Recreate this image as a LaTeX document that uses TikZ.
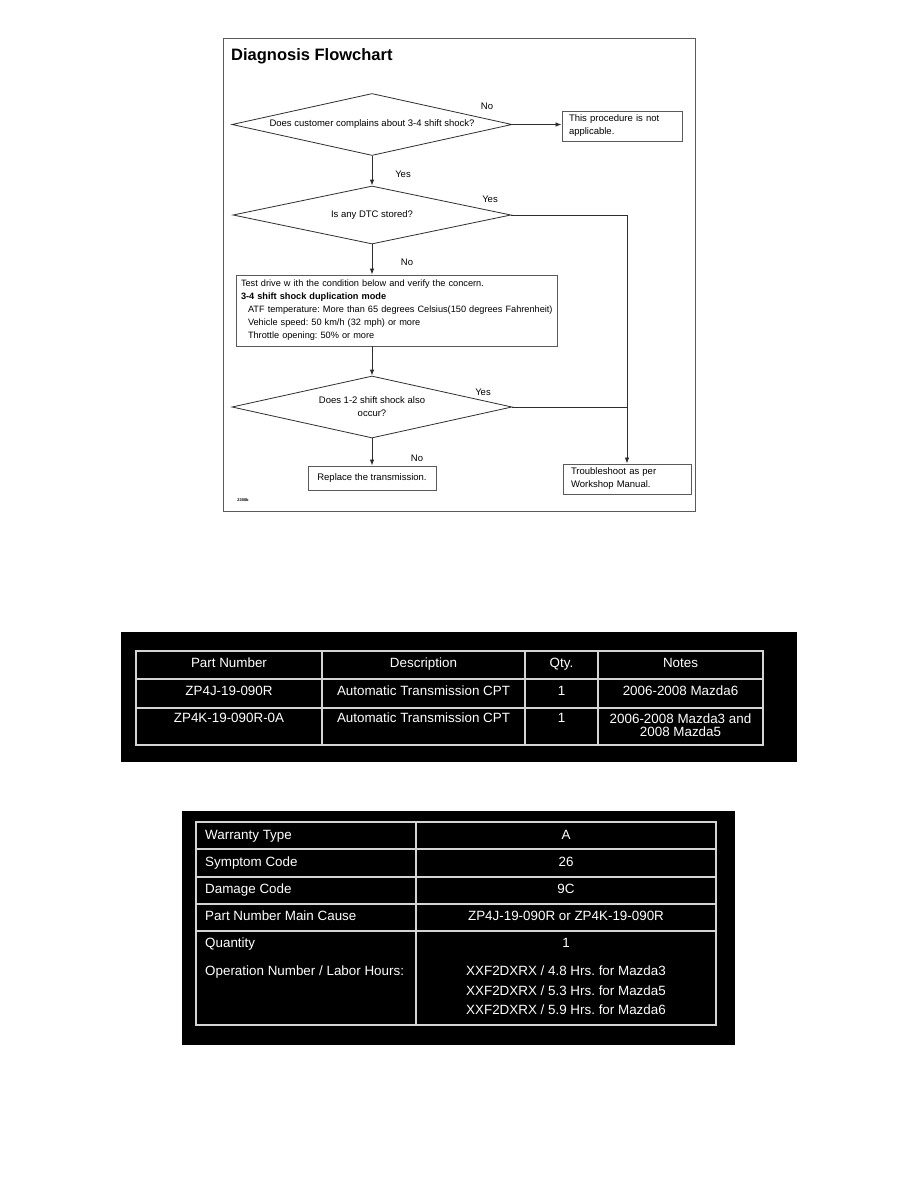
\documentclass[tikz,border=0pt]{standalone}
\usepackage{fontspec}
\setmainfont{Liberation Sans}
\usetikzlibrary{positioning, arrows.meta, shapes.geometric}
\definecolor{inkgrey}{HTML}{2E2E2E}
\definecolor{boxgrey}{HTML}{5A5A5A}
\definecolor{rulegrey}{HTML}{D4D4D4}
\frenchspacing

\begin{document}
\begin{tikzpicture}[
  x=1pt, y=-1pt,
  every node/.style={font=\fontsize{9.5}{13}\selectfont},
  arr/.style={-{Latex[length=6pt, width=4.5pt]}, line width=0.8pt, draw=inkgrey},
  lne/.style={line width=0.8pt, draw=inkgrey},
  decision/.style={
    diamond, draw=inkgrey, line width=0.8pt,
    aspect=4.5, inner sep=1pt, align=center,
    minimum width=280pt, minimum height=62pt
  },
  stepbox/.style={
    rectangle, draw=boxgrey, line width=0.9pt,
    align=left, inner ysep=3pt
  },
  lbl/.style={inner sep=0pt},
  cell/.style={
    text=white, font=\fontsize{13.4}{20}\selectfont,
    inner sep=0pt, text height=9.5pt, text depth=2.5pt
  },
  tablerule/.style={draw=rulegrey, line width=1.5pt}
]

%% page, 918 x 1188 px, y runs downwards
\fill[white] (0,0) rectangle (918,1188);
\useasboundingbox (0,0) rectangle (918,1188);

%% ─── FLOWCHART FRAME ────────────────────────────────────────────────────────
\draw[draw=boxgrey, line width=0.9pt] (223,38) rectangle (695,511);

\node[lbl, anchor=base west, font=\fontsize{16.5}{18}\bfseries\selectfont]
  (title) at (231,61) {Diagnosis Flowchart};

%% ─── DECISIONS AND STEPS ────────────────────────────────────────────────────
\node[decision] (complain) at (372,124.5)
  {Does customer complains about 3-4 shift shock?};

\node[stepbox, text width=106pt, inner xsep=7pt, minimum height=30pt]
  (notappl) at (622,126) {This procedure is not\\applicable.};

\node[decision, minimum width=278pt, minimum height=58pt] (dtc) at (372,215)
  {Is any DTC stored?};

\node[stepbox, text width=315pt, inner xsep=3pt, minimum height=71pt,
      font=\fontsize{9.2}{13}\selectfont]
  (testdrive) at (396.5,310.5)
  {\hspace*{2pt}Test drive w ith the condition below  and verify the concern.\\
   \hspace*{2pt}\textbf{3-4 shift shock duplication mode}\\
   \hspace*{9pt}ATF temperature: More than 65 degrees Celsius(150 degrees Fahrenheit)\\
   \hspace*{9pt}Vehicle speed: 50 km/h (32 mph) or more\\
   \hspace*{9pt}Throttle opening: 50\% or more};

\node[decision] (also) at (372,407)
  {Does 1-2 shift shock also\\occur?};

\node[stepbox, align=center, minimum width=128pt, minimum height=24pt]
  (replace) at (372,478) {Replace the transmission.};

\node[stepbox, text width=112pt, inner xsep=8pt, minimum height=30pt]
  (trouble) at (627,479) {Troubleshoot as per\\Workshop Manual.};

\node[lbl, font=\fontsize{4}{5}\bfseries\selectfont] (figno) at (243,500) {2300b};

%% ─── CONNECTORS ─────────────────────────────────────────────────────────────
\draw[arr] (complain.east) -- (complain.east -| notappl.west);
\node[lbl] (no_a) at (487,106) {No};

\draw[arr] (complain.south) -- (dtc.north);
\node[lbl] (yes_a) at (403,174) {Yes};

%% Yes branch of DTC runs right, then down to the manual
\draw[arr] (dtc.east) -| (trouble.north);
\node[lbl] (yes_b) at (490,199.5) {Yes};

\draw[arr] (dtc.south) -- (dtc.south |- testdrive.north);
\node[lbl] (no_b) at (407,262) {No};

\draw[arr] (testdrive.south -| also.north) -- (also.north);

%% 1-2 shock joins the same vertical line
\draw[lne] (also.east) -- (also.east -| trouble.north);
\node[lbl] (yes_c) at (483,392) {Yes};

\draw[arr] (also.south) -- (replace.north);
\node[lbl] (no_c) at (417,458.5) {No};

%% ─── PARTS TABLE ────────────────────────────────────────────────────────────
\fill[black] (121,632) rectangle (797,762);
\draw[tablerule] (136,651) rectangle (763,745);
\draw[tablerule] (136,679) -- (763,679);
\draw[tablerule] (136,708) -- (763,708);
\draw[tablerule] (322,651) -- (322,745);
\draw[tablerule] (525,651) -- (525,745);
\draw[tablerule] (598,651) -- (598,745);

\node[cell] (pn_hdr)   at (229,664)   {Part Number};
\node[cell] (desc_hdr) at (423.5,664) {Description};
\node[cell] (qty_hdr)  at (561.5,664) {Qty.};
\node[cell] (note_hdr) at (680.5,664) {Notes};

\node[cell] (pn1)   at (229,692)   {ZP4J-19-090R};
\node[cell] (desc1) at (423.5,692) {Automatic Transmission CPT};
\node[cell] (qty1)  at (561.5,692) {1};
\node[cell] (note1) at (680.5,692) {2006-2008 Mazda6};

\node[cell] (pn2)   at (229,719)   {ZP4K-19-090R-0A};
\node[cell] (desc2) at (423.5,719) {Automatic Transmission CPT};
\node[cell] (qty2)  at (561.5,719) {1};
\node[cell, align=center, text height=, text depth=, font=\fontsize{13.4}{12.5}\selectfont]
  (note2) at (680.5,725) {2006-2008 Mazda3 and\\2008 Mazda5};

%% ─── WARRANTY TABLE ─────────────────────────────────────────────────────────
\fill[black] (182,811) rectangle (735,1045);
\draw[tablerule] (196,822) rectangle (716,1025);
\draw[tablerule] (196,849) -- (716,849);
\draw[tablerule] (196,877) -- (716,877);
\draw[tablerule] (196,904) -- (716,904);
\draw[tablerule] (196,931) -- (716,931);
\draw[tablerule] (416,822) -- (416,1025);

\node[cell, anchor=west] (wt_key)  at (205,835.5) {Warranty Type};
\node[cell]              (wt_val)  at (566,835.5) {A};
\node[cell, anchor=west] (sc_key)  at (205,863)   {Symptom Code};
\node[cell]              (sc_val)  at (566,863)   {26};
\node[cell, anchor=west] (dc_key)  at (205,890)   {Damage Code};
\node[cell]              (dc_val)  at (566,890)   {9C};
\node[cell, anchor=west] (pm_key)  at (205,917)   {Part Number Main Cause};
\node[cell]              (pm_val)  at (566,917)   {ZP4J-19-090R or ZP4K-19-090R};
\node[cell, anchor=west] (qt_key)  at (205,944)   {Quantity};
\node[cell]              (qt_val)  at (566,944)   {1};
\node[cell, anchor=west] (op_key)  at (205,972)   {Operation Number / Labor Hours:};
\node[cell]              (op_val1) at (566,972)   {XXF2DXRX / 4.8 Hrs. for Mazda3};
\node[cell]              (op_val2) at (566,992)   {XXF2DXRX / 5.3 Hrs. for Mazda5};
\node[cell]              (op_val3) at (566,1011)  {XXF2DXRX / 5.9 Hrs. for Mazda6};

\end{tikzpicture}
\end{document}
